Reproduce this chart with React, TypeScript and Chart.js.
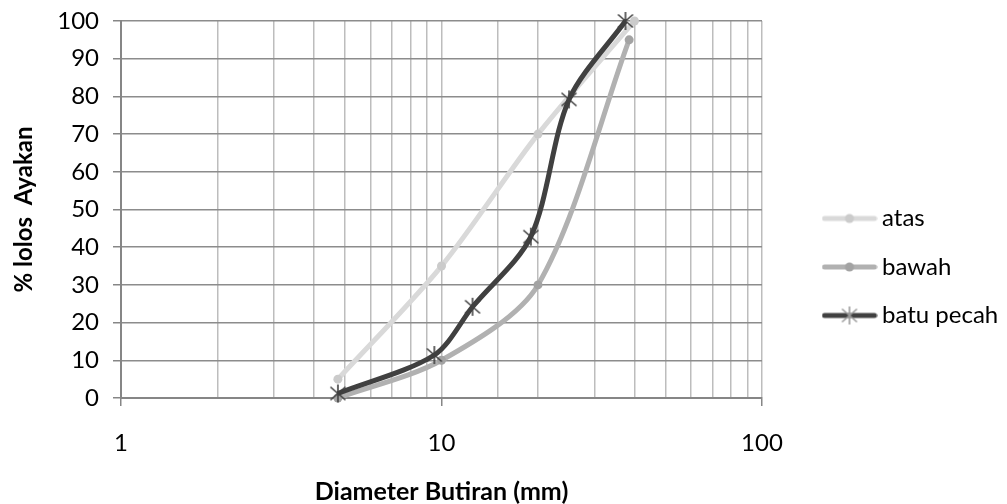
import React, { useEffect, useRef } from 'react';
import { Chart, registerables } from 'chart.js';

Chart.register(...registerables);

// ---------- data ----------
const seriesNames = ['atas', 'bawah', 'batu pecah'];
const atasX = [4.75, 10, 20, 40];
const atasY = [5, 35, 70, 100];
const bawahX = [4.75, 10, 20, 38.5];
const bawahY = [0, 10, 30, 95];
const batuX = [4.75, 9.5, 12.5, 19, 25, 37.5];
const batuY = [1.2, 11.4, 24.2, 42.8, 79.2, 100];
const xMajorTicks = [1, 10, 100];
const yTickStep = 10;
const xTitle = 'Diameter Butiran (mm)';
const yTitle = '% lolos  Ayakan';

// ---------- style ----------
const colAtas = '#d9d9d9';
const colBawah = '#b1b1b1';
const colBatu = '#404040';
const FONT = 'Lato';

const W = 1007;
const H = 504;

function isMajor(v: number) {
  return xMajorTicks.some((m) => Math.abs(m - v) < 1e-9);
}

function makeStar(color: string) {
  const c = document.createElement('canvas');
  c.width = 20;
  c.height = 20;
  const g = c.getContext('2d')!;
  g.strokeStyle = color;
  g.lineWidth = 1.6;
  g.beginPath();
  g.moveTo(10, 1);
  g.lineTo(10, 19);
  g.moveTo(2.5, 3.5);
  g.lineTo(17.5, 16.5);
  g.moveTo(17.5, 3.5);
  g.lineTo(2.5, 16.5);
  g.stroke();
  return c;
}

function makeLegendImg(color: string, markerColor: string, marker: 'circle' | 'star') {
  const c = document.createElement('canvas');
  c.width = 56;
  c.height = 20;
  const g = c.getContext('2d')!;
  g.strokeStyle = color;
  g.lineWidth = 5;
  g.lineCap = 'round';
  g.beginPath();
  g.moveTo(3, 10);
  g.lineTo(53, 10);
  g.stroke();
  if (marker === 'circle') {
    g.fillStyle = markerColor;
    g.beginPath();
    g.arc(28, 10, 4.5, 0, Math.PI * 2);
    g.fill();
  } else {
    g.drawImage(makeStar(markerColor), 18, 0);
  }
  return c;
}

export default function App() {
  const ref = useRef<HTMLCanvasElement | null>(null);

  useEffect(() => {
    document.body.style.margin = '0';
    const canvas = ref.current!;
    const starImg = makeStar(colBatu);
    const legendImgs = [
      makeLegendImg(colAtas, '#cbcbcb', 'circle'),
      makeLegendImg(colBawah, '#a3a3a3', 'circle'),
      makeLegendImg(colBatu, '#9a9a9a', 'star'),
    ];

    const placeLegend = {
      id: 'placeLegend',
      beforeUpdate(chart: any) {
        const lg = chart.legend;
        if (lg && !lg.__patched) {
          const orig = lg.fit.bind(lg);
          lg.fit = function () {
            orig();
            this.width = W - 762;
          };
          lg.__patched = true;
        }
      },
      afterLayout(chart: any) {
        const lg = chart.legend;
        if (!lg) return;
        const pad = lg.options.labels.padding;
        const dx = 829 - pad - lg.left;
        lg.left += dx;
        lg.right += dx;
        const dy = 267 - (lg.top + lg.bottom) / 2;
        lg.top += dy;
        lg.bottom += dy;
      },
    };

    const chart = new Chart(canvas, {
      type: 'line',
      data: {
        datasets: [
          {
            label: seriesNames[0],
            data: atasX.map((x, i) => ({ x, y: atasY[i] })),
            borderColor: colAtas,
            backgroundColor: colAtas,
            borderWidth: 5,
            pointRadius: 4.5,
            pointBackgroundColor: '#cbcbcb',
            pointBorderWidth: 0,
            tension: 0.3,
            clip: false,
            order: 2,
          },
          {
            label: seriesNames[1],
            data: bawahX.map((x, i) => ({ x, y: bawahY[i] })),
            borderColor: colBawah,
            backgroundColor: colBawah,
            borderWidth: 5,
            pointRadius: 4.5,
            pointBackgroundColor: '#a3a3a3',
            pointBorderWidth: 0,
            tension: 0.3,
            clip: false,
            order: 1,
          },
          {
            label: seriesNames[2],
            data: batuX.map((x, i) => ({ x, y: batuY[i] })),
            borderColor: colBatu,
            backgroundColor: colBatu,
            borderWidth: 5,
            pointStyle: starImg as any,
            pointRadius: 9,
            tension: 0.3,
            clip: false,
            order: 0,
          },
        ] as any,
      },
      options: {
        animation: false,
        responsive: false,
        devicePixelRatio: 1,
        layout: { padding: { top: 21, left: 0, right: 0, bottom: 0 } },
        plugins: {
          tooltip: { enabled: false },
          legend: {
            position: 'right',
            align: 'center',
            labels: {
              usePointStyle: true,
              pointStyleWidth: 41,
              padding: 24.5,
              color: '#000',
              font: { family: FONT, size: 24 },
              generateLabels: (chart: any) => {
                const items = Chart.defaults.plugins.legend.labels.generateLabels(chart);
                items.sort((a: any, b: any) => a.datasetIndex - b.datasetIndex);
                items.forEach((it: any) => {
                  it.pointStyle = legendImgs[it.datasetIndex];
                  it.lineWidth = 0;
                });
                return items;
              },
            },
          },
        },
        scales: {
          x: {
            type: 'logarithmic',
            position: 'bottom',
            min: 1,
            max: 100,
            afterFit: (s: any) => {
              s.height = H - 398;
              s.paddingLeft = 0;
              s.paddingRight = 0;
            },
            ticks: {
              autoSkip: false,
              maxRotation: 0,
              minRotation: 0,
              padding: 23,
              color: '#000',
              font: { family: FONT, size: 24 },
              callback: (v: any) => (isMajor(Number(v)) ? String(v) : ''),
            },
            grid: {
              color: '#bdbdbd',
              lineWidth: 1.5,
              tickLength: 8,
              tickColor: (ctx: any) => (ctx.tick && isMajor(ctx.tick.value) ? '#868686' : 'rgba(0,0,0,0)'),
            },
            border: { color: '#868686', width: 2 },
            title: {
              display: true,
              text: xTitle,
              color: '#000',
              font: { family: FONT, size: 25, weight: 'bold' },
              padding: { top: 0, bottom: -3 },
            },
          },
          y: {
            type: 'linear',
            min: 0,
            max: 100,
            afterFit: (s: any) => {
              s.width = 121;
              s.paddingTop = 0;
              s.paddingBottom = 0;
            },
            ticks: {
              stepSize: yTickStep,
              padding: 14,
              color: '#000',
              font: { family: FONT, size: 24 },
            },
            grid: {
              color: '#8c8c8c',
              lineWidth: 1.5,
              tickLength: 8,
              tickColor: '#868686',
            },
            border: { color: '#868686', width: 2 },
            title: {
              display: true,
              text: yTitle,
              color: '#000',
              font: { family: FONT, size: 24, weight: 'bold' },
              padding: { top: 10, bottom: 0 },
            },
          },
        },
      } as any,
      plugins: [placeLegend],
    });

    return () => chart.destroy();
  }, []);

  return (
    <div style={{ position: 'absolute', left: 0, top: 0, width: W, height: H, background: '#fff' }}>
      <canvas ref={ref} width={W} height={H} style={{ width: W, height: H, display: 'block' }} />
    </div>
  );
}
